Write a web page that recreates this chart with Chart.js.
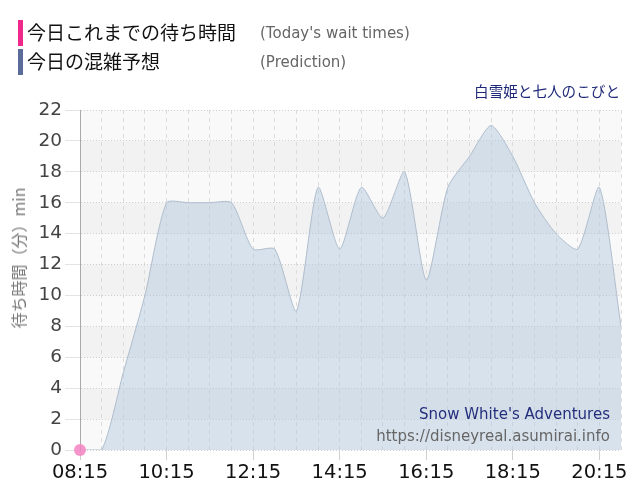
<!DOCTYPE html>
<html>
<head>
<meta charset="utf-8">
<script src="https://cdn.jsdelivr.net/npm/chart.js@4"></script>
<style>
  body { margin: 0; background: #fff; font-family: "DejaVu Sans", "Noto Sans CJK JP", sans-serif; }
  #wrap { position: relative; width: 640px; height: 500px; overflow: hidden; }
  #chart { position: absolute; left: 0; top: 0; }
  .legend-row { position: absolute; left: 18px; height: 26px; }
  .legend-row .bar { position: absolute; left: 0; top: 0; width: 5px; height: 26px; }
  .legend-row .jp { position: absolute; left: 9px; top: 0px; font-family: "Noto Sans CJK JP", sans-serif; font-size: 19px; color: #111; white-space: nowrap; line-height: 24px; }
  .legend-row .en { position: absolute; left: 242px; top: 1px; font-size: 15px; color: #666; white-space: nowrap; line-height: 24px; }
  .title-jp { position: absolute; right: 20px; top: 80px; font-family: "Noto Sans CJK JP", sans-serif; font-size: 14.6px; color: #1e2878; }
  .ytitle { position: absolute; left: 18px; top: 258px; transform: translate(-50%, -50%) rotate(-90deg); font-family: "Noto Sans CJK JP", sans-serif; font-size: 16px; color: #777; white-space: nowrap; }
  .mark { position: absolute; right: 30px; font-size: 15px; white-space: nowrap; }
</style>
</head>
<body>
<div id="wrap">
  <canvas id="chart" width="640" height="500"></canvas>
  <div class="legend-row" style="top:20px"><div class="bar" style="background:#f0288c"></div><span class="jp">今日これまでの待ち時間</span><span class="en">(Today's wait times)</span></div>
  <div class="legend-row" style="top:49px"><div class="bar" style="background:#5b6c9a"></div><span class="jp">今日の混雑予想</span><span class="en">(Prediction)</span></div>
  <div class="title-jp">白雪姫と七人のこびと</div>
  <div class="ytitle">待ち時間（分）min</div>
  <div class="mark" style="top:405px;color:#232f7c">Snow White's Adventures</div>
  <div class="mark" style="top:427px;color:#666">https://disneyreal.asumirai.info</div>
</div>
<script>
// time slots, every 30 minutes
const times = ['08:15','08:45','09:15','09:45','10:15','10:45','11:15','11:45','12:15','12:45',
               '13:15','13:45','14:15','14:45','15:15','15:45','16:15','16:45','17:15','17:45',
               '18:15','18:45','19:15','19:45','20:15','20:45'];
// predicted wait (min)
const prediction = [0, 0, 5, 10, 16, 16, 16, 16, 13, 13, 9, 17, 13, 17, 15, 18, 11, 17, 19, 21, 19, 16, 14, 13, 17, 8];
// today's actual wait so far
const todayWait = [0];
const yTicks = [0, 2, 4, 6, 8, 10, 12, 14, 16, 18, 20, 22];

// alternating gray bands behind the plot
const bandPlugin = {
    id: 'bands',
    beforeDraw(chart) {
        const { ctx, chartArea: a, scales: { y } } = chart;
        ctx.save();
        ctx.fillStyle = '#f9f9f9';
        ctx.fillRect(a.left, a.top, a.right - a.left, a.bottom - a.top);
        ctx.fillStyle = '#f2f2f2';
        for (let i = 1; i < yTicks.length - 1; i += 2) {
            const top = y.getPixelForValue(yTicks[i + 1]);
            const bot = y.getPixelForValue(yTicks[i]);
            ctx.fillRect(a.left, top, a.right - a.left, bot - top);
        }
        ctx.restore();
    }
};

new Chart(document.getElementById('chart'), {
    type: 'line',
    data: {
        labels: times,
        datasets: [
            {
                data: todayWait,
                borderColor: '#f06eb4',
                backgroundColor: 'rgba(244,130,195,0.85)',
                pointRadius: 6,
                pointBorderWidth: 0,
                showLine: false,
                clip: false
            },
            {
                data: prediction,
                borderColor: '#aebdcc',
                borderWidth: 1,
                backgroundColor: 'rgba(176,198,220,0.45)',
                fill: 'origin',
                tension: 0.22,
                pointRadius: 0
            }
        ]
    },
    options: {
        responsive: false,
        animation: false,
        layout: { padding: { top: 110, right: 19, left: 0, bottom: 0 } },
        plugins: { legend: { display: false }, tooltip: { enabled: false } },
        scales: {
            x: {
                offset: false,
                afterFit: s => { s.height = 50; },
                grid: {
                    color: '#dcdcdc',
                    tickLength: 10,
                    tickColor: c => (c.index % 4 === 0 ? '#d0d0d0' : 'rgba(0,0,0,0)')
                },
                border: { display: false, dash: [4, 4] },
                ticks: {
                    autoSkip: false,
                    maxRotation: 0,
                    padding: 1,
                    color: '#111',
                    font: { family: 'DejaVu Sans', size: 19.5 },
                    callback: (v, i) => (i % 4 === 0 ? times[i] : '')
                }
            },
            y: {
                min: 0,
                max: 22,
                afterFit: s => { s.width = 80; },
                afterBuildTicks: s => { s.ticks = yTicks.map(v => ({ value: v })); },
                grid: { color: '#cfcfcf', tickLength: 15, tickColor: '#e4e4e4' },
                border: { display: true, color: '#aaaaaa', width: 1, dash: [1, 2] },
                ticks: {
                    padding: 3,
                    color: '#444',
                    font: { family: 'DejaVu Sans', size: 18.5 }
                }
            }
        }
    },
    plugins: [bandPlugin]
});
</script>
</body>
</html>
